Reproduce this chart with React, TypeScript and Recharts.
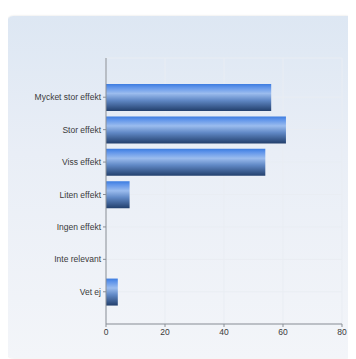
import React from 'react';
import { BarChart, Bar, XAxis, YAxis, CartesianGrid } from 'recharts';

const categories = [
  'Mycket stor effekt',
  'Stor effekt',
  'Viss effekt',
  'Liten effekt',
  'Ingen effekt',
  'Inte relevant',
  'Vet ej',
];
const values = [56, 61, 54, 8, 0, 0, 4];
const xTicks = [0, 20, 40, 60, 80];

const data = categories.map((name, i) => ({ name, value: values[i] }));

const fontFamily = 'Liberation Sans, Arial, sans-serif';
const tickStyle = { fontSize: 8.5, fill: '#3a3a3a', fontFamily };

const CategoryTick = (props: any) => {
  const { x, y, payload } = props;
  return (
    <text x={x} y={y} dy={3} textAnchor="end" fontSize={8.5} fill="#3a3a3a" fontFamily={fontFamily}>
      {payload.value}
    </text>
  );
};

const App: React.FC = () => {
  return (
    <div style={{ position: 'relative', width: 356, height: 359, margin: '-8px 0 0 -8px' }}>
      {/* card background */}
      <div
        style={{
          position: 'absolute',
          left: 7,
          top: 16,
          width: 346,
          height: 342,
          borderRadius: 6,
          background: 'linear-gradient(180deg, #dde7f3 0%, #e9eef6 40%, #f3f5f9 100%)',
          boxShadow: '0 0 2px rgba(0,0,0,0.15)',
        }}
      />
      <div style={{ position: 'absolute', left: 0, top: 0 }}>
        <BarChart
          width={356}
          height={359}
          data={data}
          layout="vertical"
          margin={{ top: 58, right: 14, bottom: 5, left: 0 }}
        >
          <defs>
            <linearGradient id="barGrad" x1="0" y1="0" x2="0" y2="1">
              <stop offset="0%" stopColor="#3c7ce0" />
              <stop offset="12%" stopColor="#5f94ea" />
              <stop offset="35%" stopColor="#9bbcee" />
              <stop offset="60%" stopColor="#6189c6" />
              <stop offset="100%" stopColor="#223f6c" />
            </linearGradient>
          </defs>
          <CartesianGrid stroke="#e9edf3" />
          <XAxis
            type="number"
            domain={[0, 80]}
            ticks={xTicks}
            tick={tickStyle}
            stroke="#8a8f96"
            tickSize={3}
            height={30}
          />
          <YAxis
            type="category"
            dataKey="name"
            width={106}
            tick={<CategoryTick />}
            stroke="#8a8f96"
            tickSize={3}
            padding={{ top: 23, bottom: 16 }}
            interval={0}
          />
          <Bar dataKey="value" fill="url(#barGrad)" barSize={27} isAnimationActive={false} />
        </BarChart>
      </div>
    </div>
  );
};

export default App;
